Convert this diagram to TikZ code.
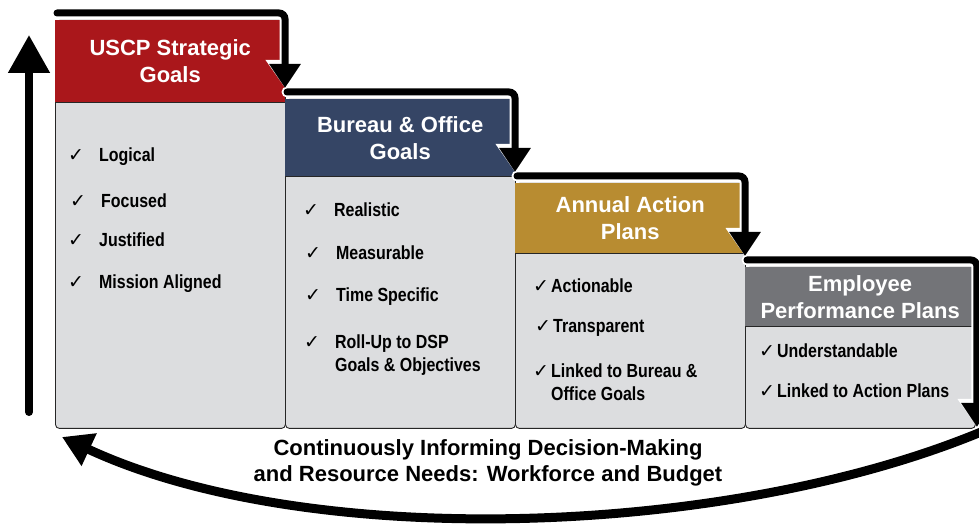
\documentclass[tikz,border=0pt]{standalone}
\usepackage{fontspec}
\setmainfont{Liberation Sans}
\newfontfamily\itemfont[FakeStretch=0.84]{Liberation Sans}
\newfontfamily\symfont{DejaVu Sans}
\usepackage{tikz}
\usetikzlibrary{arrows.meta,positioning,calc}
\definecolor{uscpRed}{RGB}{170,23,27}
\definecolor{bureauBlue}{RGB}{53,69,101}
\definecolor{actionGold}{RGB}{184,140,49}
\definecolor{staffGray}{RGB}{115,116,120}
\definecolor{bodyGray}{RGB}{220,221,223}
\newcommand{\tick}[1]{\makebox[#1pt][l]{\symfont\fontsize{19}{19}\selectfont\char"2713}}

\begin{document}
\begin{tikzpicture}[x=1pt,y=1pt,
    body/.style={draw=black!85,line width=0.9pt,fill=bodyGray,rounded corners=4pt,
                 anchor=north west,inner sep=0pt,minimum width=230pt},
    head/.style={anchor=north west,minimum width=230pt,inner sep=0pt,align=center,
                 text=white,font=\fontsize{22}{27}\selectfont\bfseries},
    item/.style={anchor=west,align=left,inner sep=0pt,
                 font=\itemfont\fontsize{19}{23}\selectfont\bfseries},
    flow/.style={line width=7pt,rounded corners=6pt,line cap=round,
                 -{Triangle[width=30pt,length=24pt]}},
    halo/.style={flow,white,line width=11pt,-{Triangle[width=37pt,length=28pt]}},
    note/.style={align=center,font=\fontsize{22}{26}\selectfont\bfseries}
  ]
  \useasboundingbox (0,0) rectangle (979,524);

  % the four steps, each a gray body under a coloured title
  \node[body,minimum height=408pt] (bdA) at (55,504) {};
  \node[head,fill=uscpRed,minimum height=82pt] (hdA) at (55,504) {USCP Strategic\\Goals};
  \node[body,minimum height=329pt] (bdB) at (285,425) {};
  \node[head,fill=bureauBlue,minimum height=77pt] (hdB) at (285,425) {Bureau \& Office\\Goals};
  \node[body,minimum height=245pt] (bdC) at (515,341) {};
  \node[head,fill=actionGold,minimum height=70pt] (hdC) at (515,341) {Annual Action\\Plans};
  \node[body,minimum height=161pt] (bdD) at (745,257) {};
  \node[head,fill=staffGray,minimum height=59pt] (hdD) at (745,257) {Employee\\Performance Plans};
  \foreach \h in {hdA,hdB,hdC,hdD}
    \draw[black!85,line width=0.9pt] (\h.south west) -- (\h.south east);

  % check lists
  \node[item] (a1) at (68,367) {\tick{31}Logical};
  \node[item] (a2) at (70,323) {\tick{31}Focused};
  \node[item] (a3) at (68,284) {\tick{31}Justified};
  \node[item] (a4) at (68,240) {\tick{31}Mission Aligned};

  \node[item] (b1) at (303,314) {\tick{31}Realistic};
  \node[item] (b2) at (305,271) {\tick{31}Measurable};
  \node[item] (b3) at (305,227) {\tick{31}Time Specific};
  \node[item] (b4) at (304,169) {\tick{31}Roll-Up to DSP\\\hspace*{31pt}Goals \& Objectives};

  \node[item] (c1) at (533,238) {\tick{18}Actionable};
  \node[item] (c2) at (535,196) {\tick{18}Transparent};
  \node[item] (c3) at (533,142) {\tick{18}Linked to Bureau \&\\\hspace*{18pt}Office Goals};

  \node[item] (d1) at (759,173) {\tick{18}Understandable};
  \node[item] (d2) at (759,133) {\tick{18}Linked to Action Plans};

  % stair arrows over the titles
  \foreach \a/\b in {hdA/hdB,hdB/hdC,hdC/hdD}
    \draw[halo] ($(\a.north west)+(2,7)$) -| ($(\b.north west)+(0,11)$);
  \draw[halo] ($(hdD.north west)+(2,7)$) -| ($(bdD.south east)+(1,2)$);
  \foreach \a/\b in {hdA/hdB,hdB/hdC,hdC/hdD}
    \draw[flow] ($(\a.north west)+(2,7)$) -| ($(\b.north west)+(0,11)$);
  \draw[flow] ($(hdD.north west)+(2,7)$) -| ($(bdD.south east)+(1,2)$);

  % feedback loop
  \coordinate (upfoot) at (29,112);
  \coordinate (uptop) at (29,489);
  \draw[line width=8pt,line cap=round,-{Triangle[width=40pt,length=38pt]}] (upfoot) -- (uptop);

  \coordinate (loopstart) at (981,92);
  \coordinate (loopend) at (62,87);
  \draw[line width=9pt,-{Triangle[width=34pt,length=30pt]}]
    (loopstart) .. controls (725,-14) and (307,-27) .. (loopend);

  \node[note] (loop) at (488,61) {Continuously Informing Decision-Making\\and Resource Needs: Workforce and Budget};
\end{tikzpicture}
\end{document}
